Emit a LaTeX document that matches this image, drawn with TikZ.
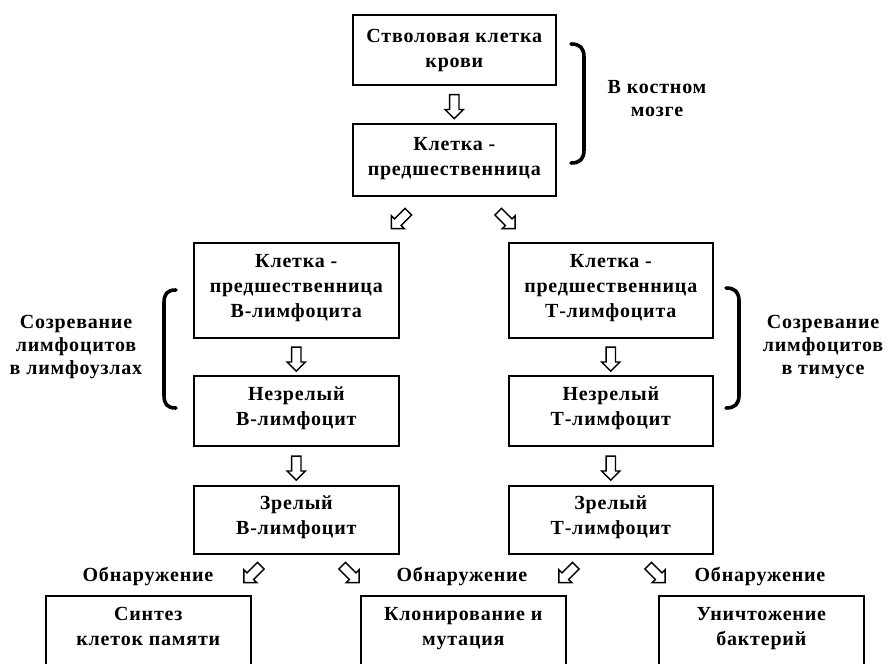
\documentclass[tikz,border=0pt]{standalone}
\usepackage{fontspec}
\setmainfont{Liberation Serif}[LetterSpace=4]
\usetikzlibrary{shapes.arrows,calc}
\newcommand{\fs}{\rule{0pt}{14.5pt}}
\begin{document}
\begin{tikzpicture}[x=1pt,y=-1pt,
  box/.style={draw, line width=1.6pt, inner sep=0pt, anchor=north west},
  txt/.style={font=\bfseries\fontsize{20}{25}\selectfont, align=center, inner sep=0pt, anchor=north},
  side/.style={font=\bfseries\fontsize{20}{23}\selectfont, align=center, inner sep=0pt, anchor=north},
  lbl/.style={font=\bfseries\fontsize{20}{23}\selectfont, inner sep=0pt, anchor=base},
  arr/.style={draw, fill=white, line width=1.4pt, single arrow, single arrow head extend=4.5pt,
              minimum height=24pt, inner sep=4pt},
  brace/.style={line width=3.6pt, line cap=round}]
\useasboundingbox (0,0) rectangle (889,664);

% boxes
\node[box, minimum width=203pt, minimum height=70pt] (s1) at (352,14) {};
\node[box, minimum width=203pt, minimum height=72pt] (s2) at (352,123) {};
\node[box, minimum width=205pt, minimum height=95pt] (l1) at (193,242) {};
\node[box, minimum width=205pt, minimum height=70pt] (l2) at (193,375) {};
\node[box, minimum width=205pt, minimum height=68pt] (l3) at (193,485) {};
\node[box, minimum width=204pt, minimum height=95pt] (r1) at (508,242) {};
\node[box, minimum width=204pt, minimum height=70pt] (r2) at (508,375) {};
\node[box, minimum width=204pt, minimum height=68pt] (r3) at (508,485) {};
\node[box, minimum width=205pt, minimum height=90pt] (ba) at (45,595) {};
\node[box, minimum width=205pt, minimum height=90pt] (bb) at (360,595) {};
\node[box, minimum width=205pt, minimum height=90pt] (bc) at (658,595) {};

% box texts
\node[txt] (t1) at ($(s1.north)+(0,13.5)$) {\fs Стволовая клетка\\крови};
\node[txt] (t2) at ($(s2.north)+(0,12.5)$) {\fs Клетка -\\предшественница};
\node[txt] (tl1) at ($(l1.north)+(0,10.5)$) {\fs Клетка -\\предшественница\\В-лимфоцита};
\node[txt] (tl2) at ($(l2.north)+(0,10.5)$) {\fs Незрелый\\В-лимфоцит};
\node[txt] (tl3) at ($(l3.north)+(0,9.5)$) {\fs Зрелый\\В-лимфоцит};
\node[txt] (tr1) at ($(r1.north)+(0,10.5)$) {\fs Клетка -\\предшественница\\Т-лимфоцита};
\node[txt] (tr2) at ($(r2.north)+(0,10.5)$) {\fs Незрелый\\Т-лимфоцит};
\node[txt] (tr3) at ($(r3.north)+(0,9.5)$) {\fs Зрелый\\Т-лимфоцит};
\node[txt] (ta) at ($(ba.north)+(0,10.5)$) {\fs Синтез\\клеток памяти};
\node[txt] (tb) at ($(bb.north)+(0,10.5)$) {\fs Клонирование и\\мутация};
\node[txt] (tc) at ($(bc.north)+(0,10.5)$) {\fs Уничтожение\\бактерий};

% arrows
\node[arr, rotate=-90] (a0) at ($(s1.south)!0.5!(s2.north)$) {};
\node[arr, rotate=-135] (a1) at (401.5,218.5) {};
\node[arr, rotate=-45] (a2) at (505,218.5) {};
\node[arr, rotate=-90] (al1) at ($(l1.south)!0.5!(l2.north)$) {};
\node[arr, rotate=-90] (al2) at ($(l2.south)!0.5!(l3.north)$) {};
\node[arr, rotate=-90] (ar1) at ($(r1.south)!0.5!(r2.north)$) {};
\node[arr, rotate=-90] (ar2) at ($(r2.south)!0.5!(r3.north)$) {};
\node[arr, rotate=-135] (b1) at (254,572.5) {};
\node[arr, rotate=-45] (b2) at (349,572.5) {};
\node[arr, rotate=-135] (b3) at (569,572.5) {};
\node[arr, rotate=-45] (b4) at (655,572.5) {};

% braces
\draw[brace] (571,44) .. controls (580,44) and (584,48) .. (584,57) -- (584,150) .. controls (584,159) and (580,163) .. (571,163);
\draw[brace] (176,290) .. controls (167,290) and (164,294) .. (164,303) -- (164,395) .. controls (164,404) and (167,408) .. (176,408);
\draw[brace] (726,288) .. controls (735,288) and (739,292) .. (739,301) -- (739,395) .. controls (739,404) and (735,408) .. (726,408);

% side labels
\node[side] (k1) at (657,78.5) {\fs В костном\\мозге};
\node[side] (k2) at (76,313.5) {\fs Созревание\\лимфоцитов\\в лимфоузлах};
\node[side] (k3) at (823,313.5) {\fs Созревание\\лимфоцитов\\в тимусе};
\node[lbl] (o1) at (148,581) {Обнаружение};
\node[lbl] (o2) at (462,581) {Обнаружение};
\node[lbl] (o3) at (760,581) {Обнаружение};
\end{tikzpicture}
\end{document}
